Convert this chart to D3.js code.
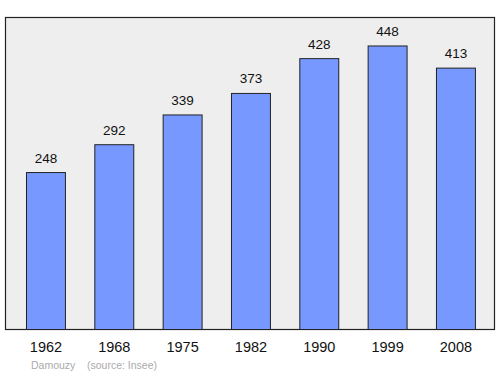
<!DOCTYPE html>
<html>
<head>
<meta charset="utf-8">
<script src="https://cdn.jsdelivr.net/npm/d3@7"></script>
<style>
  body { margin: 0; background: #fff; }
  text { font-family: "Liberation Sans", Arial, sans-serif; }
</style>
</head>
<body>
<script>
const years = ["1962", "1968", "1975", "1982", "1990", "1999", "2008"];
const population = [248, 292, 339, 373, 428, 448, 413];
const commune = "Damouzy";
const source = "(source: Insee)";

const width = 500, height = 374;
const plot = { left: 5.5, top: 17.5, right: 494.5, bottom: 329.5 };

const svg = d3.select("body").append("svg")
  .attr("width", width)
  .attr("height", height);

const x = d3.scaleBand()
  .domain(years)
  .range([11.3, 489.6])
  .paddingInner(0.43)
  .paddingOuter(0.215);

const y = d3.scaleLinear()
  .domain([0, 493])
  .range([plot.bottom, plot.top]);

// background panel
svg.append("rect")
  .attr("x", plot.left)
  .attr("y", plot.top)
  .attr("width", plot.right - plot.left)
  .attr("height", plot.bottom - plot.top)
  .attr("fill", "#eeeeee")
  .attr("stroke", "#222")
  .attr("stroke-width", 1.2);

// bars
svg.selectAll("rect.bar")
  .data(population)
  .join("rect")
  .attr("class", "bar")
  .attr("x", (d, i) => x(years[i]) + 0.5)
  .attr("y", d => y(d))
  .attr("width", x.bandwidth())
  .attr("height", d => y(0) - y(d))
  .attr("fill", "#7799ff")
  .attr("stroke", "#222")
  .attr("stroke-width", 1);

// value labels
svg.selectAll("text.val")
  .data(population)
  .join("text")
  .attr("class", "val")
  .attr("x", (d, i) => x(years[i]) + x.bandwidth() / 2 + 0.5)
  .attr("y", d => y(d) - 10)
  .attr("text-anchor", "middle")
  .attr("font-size", 13.5)
  .attr("fill", "#111")
  .text(d => d);

// x axis labels
const xAxis = d3.axisBottom(x).tickSize(0).tickPadding(0);
const gx = svg.append("g")
  .attr("transform", `translate(0.5, ${plot.bottom + 8.5})`)
  .call(xAxis);
gx.select(".domain").remove();
gx.selectAll("text")
  .attr("font-size", 14.5)
  .attr("fill", "#111")
  .attr("dy", "0.95em");

// footer
svg.append("text")
  .attr("x", 31)
  .attr("y", 369)
  .attr("font-size", 10.5)
  .attr("fill", "#aaa")
  .text(commune);
svg.append("text")
  .attr("x", 87)
  .attr("y", 369)
  .attr("font-size", 10.5)
  .attr("fill", "#aaa")
  .text(source);
</script>
</body>
</html>
